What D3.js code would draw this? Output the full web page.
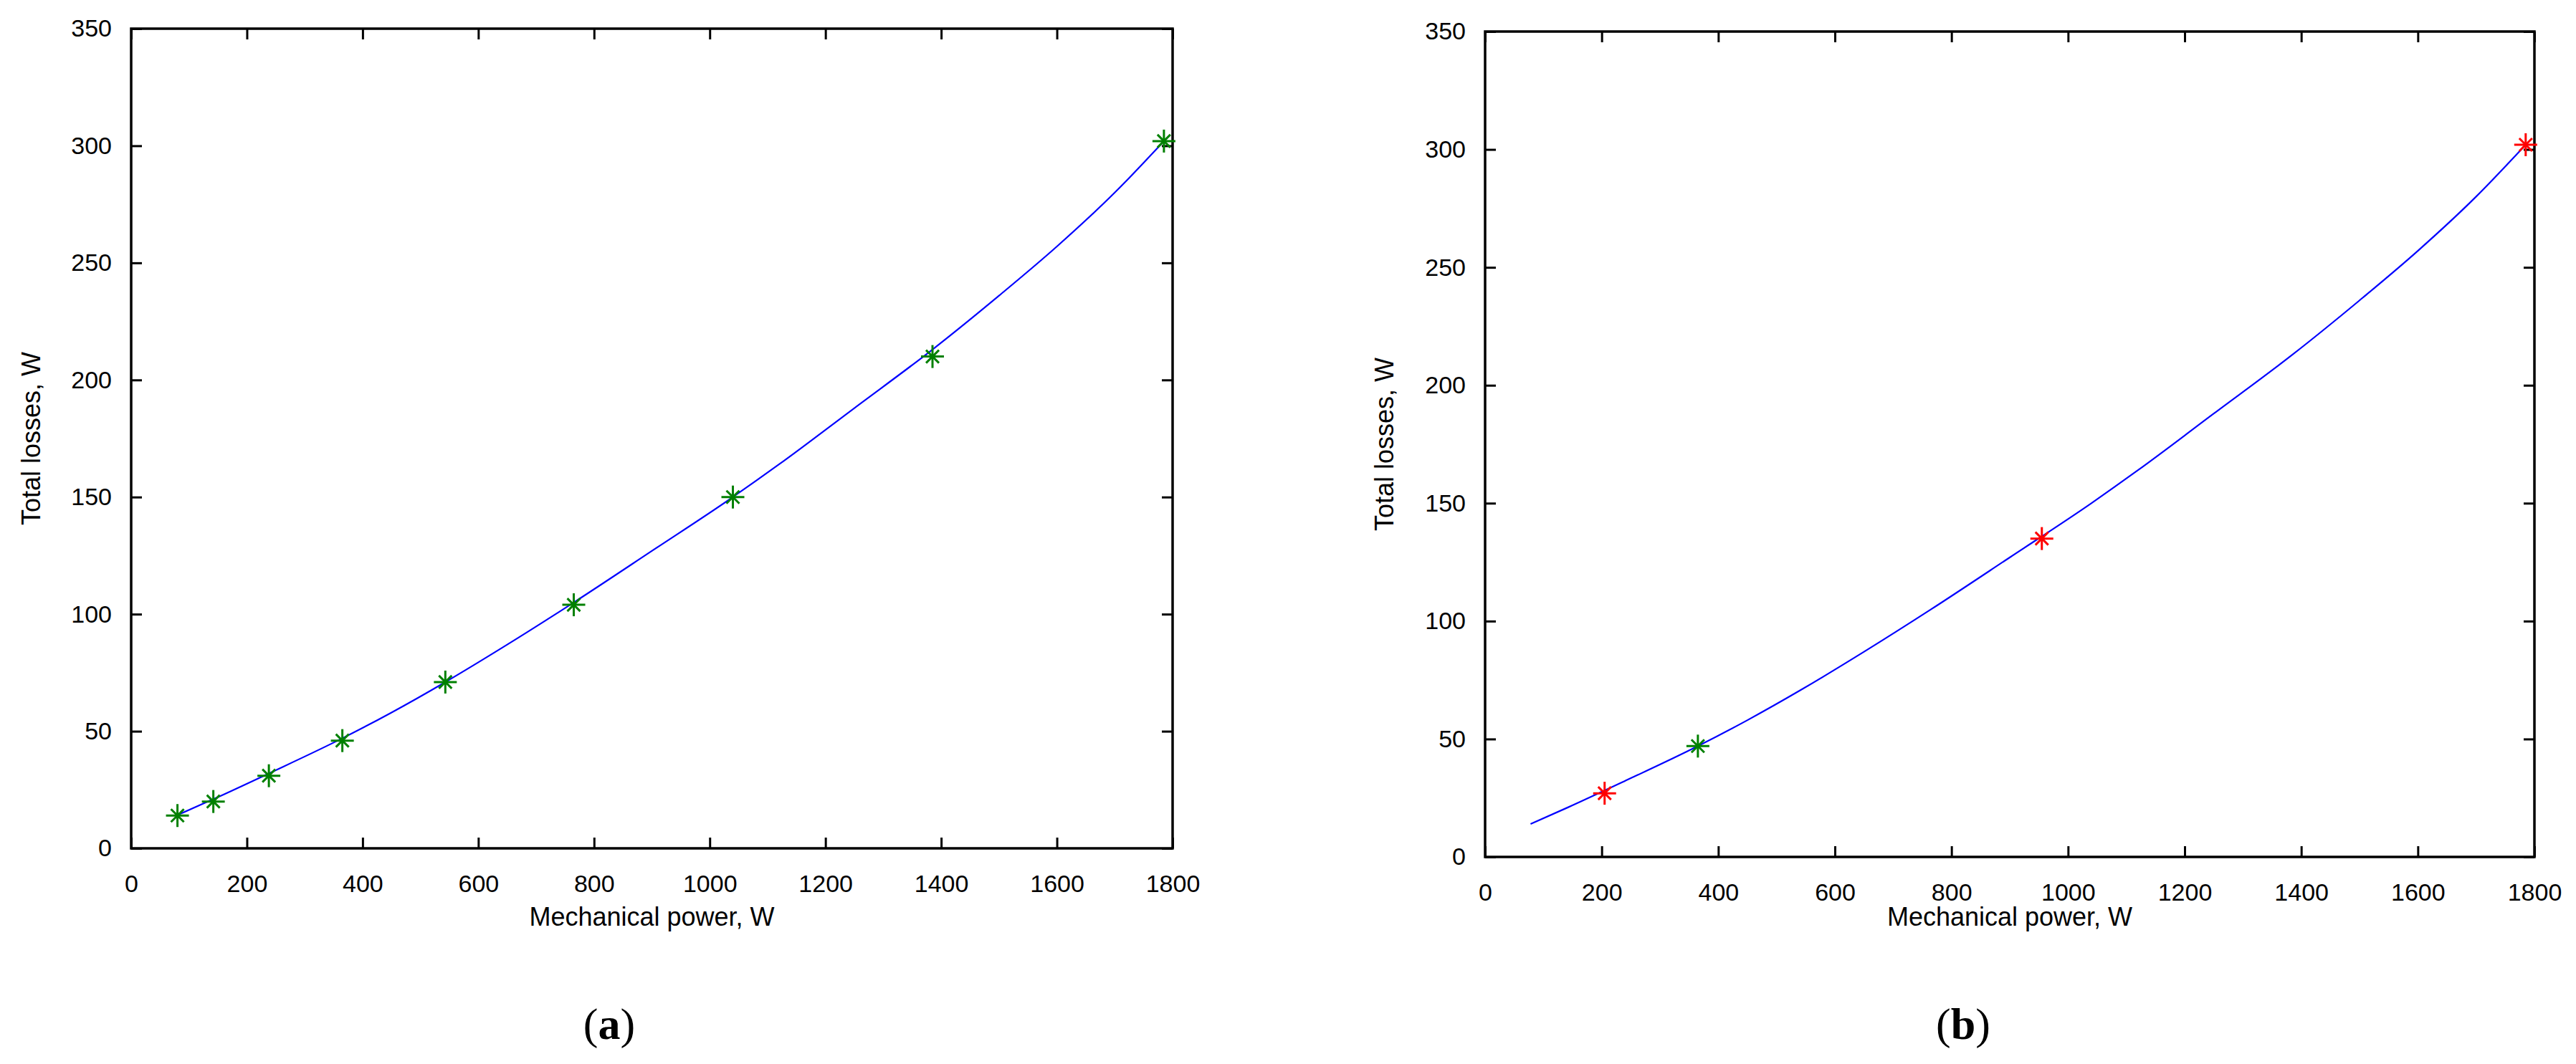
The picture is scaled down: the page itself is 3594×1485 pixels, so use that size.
<!DOCTYPE html>
<html><head><meta charset="utf-8">
<script src="https://cdn.jsdelivr.net/npm/d3@7"></script>
<style>body{margin:0;background:#fff}</style></head>
<body><svg id="c" width="3594" height="1485"></svg>
<script>
const xTicks=[0,200,400,600,800,1000,1200,1400,1600,1800];
const yTicks=[0,50,100,150,200,250,300,350];
const curveX=[78,142,238,365,450,543,650,765,900,1040,1120,1250,1385,1500,1600,1700,1785];
const curveY=[14,21,32,47,58,71,87,105,127,150,164,188,213,236,257,280,302];
const aX=[80,142,238,365,543,765,1040,1385,1785];
const aY=[14,20,31,46,71,104,150,210,302];
const bGreenX=[365], bGreenY=[47];
const bRedX=[205,955,1785], bRedY=[27,135,302];
const xLabel="Mechanical power, W", yLabel="Total losses, W";

const svg=d3.select("#c");
const font="'Liberation Sans Narrow','Liberation Sans',Arial,sans-serif";
function panel(L,R,T,B,ylabX,capX,caption,pts){
  const x=d3.scaleLinear().domain([0,1800]).range([L,R]);
  const y=d3.scaleLinear().domain([0,350]).range([B,T]);
  const g=svg.append("g");
  const tl=15;
  const ax=(a,tr)=>{const gg=g.append("g").attr("transform",tr).call(a);gg.select(".domain").remove();gg.selectAll("line").attr("stroke","#000").attr("stroke-width",3);gg.selectAll("text").attr("font-family",font).attr("font-size",34).attr("fill","#000");return gg;};
  ax(d3.axisBottom(x).tickValues(xTicks).tickSize(-tl).tickPadding(22+tl).tickFormat(d3.format("d")),`translate(0,${B})`);
  ax(d3.axisTop(x).tickValues(xTicks).tickSize(-tl).tickFormat(""),`translate(0,${T})`);
  ax(d3.axisLeft(y).tickValues(yTicks).tickSize(-tl).tickPadding(12+tl).tickFormat(d3.format("d")),`translate(${L},0)`);
  ax(d3.axisRight(y).tickValues(yTicks).tickSize(-tl).tickFormat(""),`translate(${R},0)`);
  g.append("rect").attr("x",L).attr("y",T).attr("width",R-L).attr("height",B-T).attr("fill","none").attr("stroke","#000").attr("stroke-width",3.5);
  const line=d3.line().x(d=>x(d[0])).y(d=>y(d[1])).curve(d3.curveMonotoneX);
  g.append("path").datum(curveX.map((v,i)=>[v,curveY[i]])).attr("d",line).attr("fill","none").attr("stroke","#0000ff").attr("stroke-width",2.2);
  pts.forEach(([xs,ys,col])=>{
    xs.forEach((v,i)=>{
      const cx=x(v),cy=y(ys[i]),s=16,d=9;
      const m=g.append("g").attr("stroke",col).attr("stroke-width",3);
      m.append("line").attr("x1",cx-s).attr("x2",cx+s).attr("y1",cy).attr("y2",cy);
      m.append("line").attr("x1",cx).attr("x2",cx).attr("y1",cy-s).attr("y2",cy+s);
      m.append("line").attr("x1",cx-d).attr("x2",cx+d).attr("y1",cy-d).attr("y2",cy+d);
      m.append("line").attr("x1",cx-d).attr("x2",cx+d).attr("y1",cy+d).attr("y2",cy-d);
    });
  });
  g.append("text").attr("x",(L+R)/2).attr("y",1292).attr("text-anchor","middle").attr("font-family",font).attr("font-size",36).text(xLabel);
  g.append("text").attr("transform",`translate(${ylabX},${(T+B)/2}) rotate(-90)`).attr("text-anchor","middle").attr("font-family",font).attr("font-size",36).text(yLabel);
  const c=g.append("text").attr("x",capX).attr("y",1450).attr("text-anchor","middle").attr("font-family","'Liberation Serif','Times New Roman',serif").attr("font-size",62);
  c.append("tspan").text("(");c.append("tspan").attr("font-weight","bold").text(caption);c.append("tspan").text(")");
}
panel(183,1636,40,1184,56,850,"a",[[aX,aY,"#008000"]]);
panel(2072,3536,44,1196,1944,2739,"b",[[bGreenX,bGreenY,"#008000"],[bRedX,bRedY,"#ff0000"]]);
</script></body></html>
